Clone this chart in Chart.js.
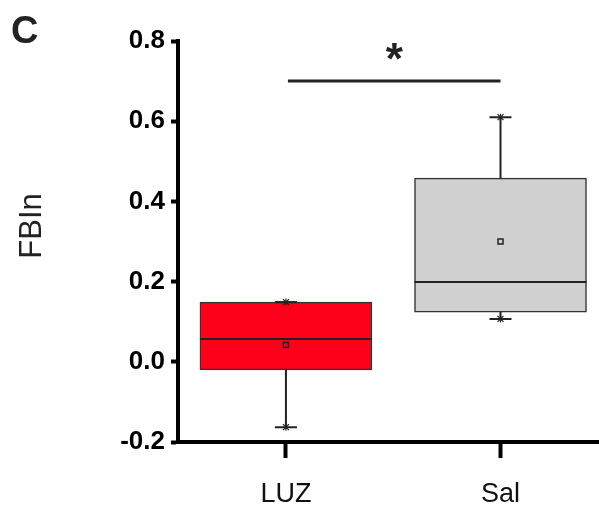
<!DOCTYPE html>
<html>
<head>
<meta charset="utf-8">
<script src="https://cdn.jsdelivr.net/npm/chart.js@4/dist/chart.umd.min.js"></script>
<style>
  html, body { margin: 0; padding: 0; background: #fff; }
  #wrap { width: 599px; height: 506px; }
</style>
</head>
<body>
<div id="wrap"><canvas id="box-chart" width="599" height="506"></canvas></div>
<script>
const groups = ['LUZ', 'Sal'];
const mins = [-0.163, 0.107];
const q1s = [-0.02, 0.124];
const medians = [0.057, 0.199];
const q3s = [0.149, 0.458];
const maxs = [0.149, 0.61];
const means = [0.042, 0.30];
const boxColors = ['#fd0019', '#cfd0cf'];
const sigLevel = 0.70;
const sigLabel = '*';
const yTicks = [-0.2, 0.0, 0.2, 0.4, 0.6, 0.8];

const FONT = '"Liberation Sans", Arial, sans-serif';

// draws median, whiskers, caps, means, significance bar and panel texts
const boxExtras = {
  id: 'boxExtras',
  afterDatasetsDraw(chart) {
    const ctx = chart.ctx;
    const xs = chart.scales.x;
    const ys = chart.scales.y;
    const half = 172 / 2;
    ctx.save();
    ctx.strokeStyle = '#222';
    groups.forEach((g, i) => {
      const cx = xs.getPixelForValue(i);
      // median
      ctx.lineWidth = 2;
      ctx.beginPath();
      ctx.moveTo(cx - half, ys.getPixelForValue(medians[i]));
      ctx.lineTo(cx + half, ys.getPixelForValue(medians[i]));
      ctx.stroke();
      // whiskers
      [[q3s[i], maxs[i]], [q1s[i], mins[i]]].forEach(([from, to]) => {
        const y1 = ys.getPixelForValue(from);
        const y2 = ys.getPixelForValue(to);
        ctx.lineWidth = 2;
        ctx.beginPath();
        ctx.moveTo(cx, y1);
        ctx.lineTo(cx, y2);
        ctx.moveTo(cx - 11, y2);
        ctx.lineTo(cx + 11, y2);
        ctx.stroke();
        // star marker
        ctx.lineWidth = 1.2;
        ctx.beginPath();
        ctx.moveTo(cx - 3, y2 - 3); ctx.lineTo(cx + 3, y2 + 3);
        ctx.moveTo(cx - 3, y2 + 3); ctx.lineTo(cx + 3, y2 - 3);
        ctx.moveTo(cx, y2 - 3.5); ctx.lineTo(cx, y2 + 3.5);
        ctx.stroke();
      });
      // mean
      const my = ys.getPixelForValue(means[i]);
      ctx.lineWidth = 1.5;
      ctx.fillStyle = boxColors[i];
      ctx.fillRect(cx - 2.5, my - 2.5, 5, 5);
      ctx.strokeRect(cx - 2.5, my - 2.5, 5, 5);
    });
    // significance bar
    const sy = ys.getPixelForValue(sigLevel);
    const sx1 = xs.getPixelForValue(0) + 2;
    const sx2 = xs.getPixelForValue(1);
    ctx.lineWidth = 3;
    ctx.beginPath();
    ctx.moveTo(sx1, sy);
    ctx.lineTo(sx2, sy);
    ctx.stroke();
    ctx.fillStyle = '#222';
    ctx.font = 'bold 44px ' + FONT;
    ctx.textAlign = 'center';
    ctx.textBaseline = 'middle';
    ctx.fillText(sigLabel, (sx1 + sx2) / 2, sy - 19);
    // panel letter
    ctx.font = 'bold 38px ' + FONT;
    ctx.textAlign = 'left';
    ctx.textBaseline = 'alphabetic';
    ctx.fillText('C', 11, 43);
    // y title
    ctx.font = '31px ' + FONT;
    ctx.translate(41, 226);
    ctx.rotate(-Math.PI / 2);
    ctx.textAlign = 'center';
    ctx.fillText('FBIn', 0, 0);
    ctx.restore();
  }
};

new Chart(document.getElementById('box-chart'), {
  type: 'bar',
  data: {
    datasets: [{
      data: groups.map((g, i) => ({ x: i, y: [q1s[i], q3s[i]] })),
      backgroundColor: boxColors,
      borderColor: '#333',
      borderWidth: 1.5,
      borderSkipped: false,
      barThickness: 172
    }]
  },
  options: {
    responsive: false,
    animation: false,
    layout: { padding: { top: 41, left: 0, right: 0, bottom: 0 } },
    plugins: { legend: { display: false }, tooltip: { enabled: false } },
    scales: {
      x: {
        type: 'linear',
        offset: false,
        min: -0.503,
        max: 1.459,
        afterBuildTicks: s => { s.ticks = groups.map((g, i) => ({ value: i })); },
        afterFit: s => { s.height = 64; },
        ticks: {
          callback: v => groups[v],
          color: '#111',
          font: { family: FONT, size: 27 },
          padding: 20
        },
        grid: { offset: false, drawOnChartArea: false, tickLength: 16, tickWidth: 4, color: '#000' },
        border: { display: true, width: 4, color: '#000' }
      },
      y: {
        min: -0.2,
        max: 0.8,
        afterBuildTicks: s => { s.ticks = yTicks.map(v => ({ value: v })); },
        afterFit: s => { s.width = 178; },
        ticks: {
          callback: v => v.toFixed(1),
          color: '#000',
          font: { family: FONT, size: 26, weight: 'bold' },
          padding: 6
        },
        grid: { drawOnChartArea: false, tickLength: 7, tickWidth: 4, color: '#000' },
        border: { display: true, width: 4, color: '#000' }
      }
    }
  },
  plugins: [boxExtras]
});
</script>
</body>
</html>
